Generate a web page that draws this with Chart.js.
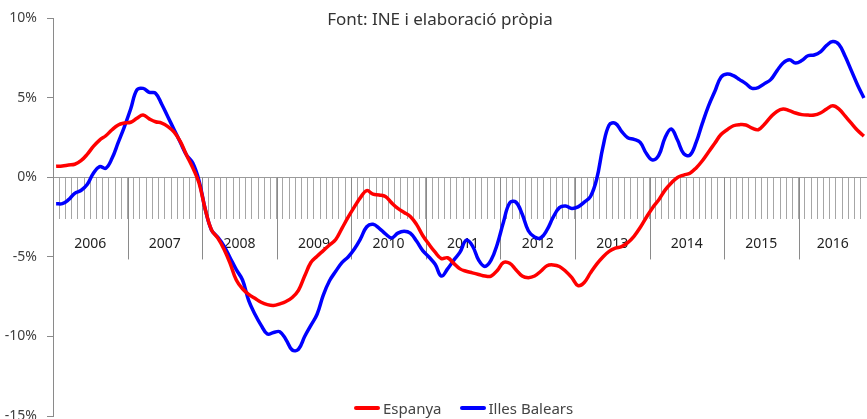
<!DOCTYPE html>
<html>
<head>
<meta charset="utf-8">
<script src="https://cdn.jsdelivr.net/npm/chart.js@4.4.1/dist/chart.umd.min.js"></script>
<style>
  html,body{margin:0;padding:0;background:#fff;overflow:hidden;}
  #wrap{position:relative;width:867px;height:440px;}
  #title{position:absolute;left:0;top:7px;width:880px;text-align:center;
         font:17px 'Noto Sans',sans-serif;color:#333;}
  #legend{position:absolute;left:354px;top:398px;display:flex;align-items:center;
          font:15px 'Noto Sans',sans-serif;color:#444;}
  .li{display:flex;align-items:center;margin-right:18px;}
  .lbar{width:26px;height:4px;border-radius:2px;margin-right:3px;}
</style>
</head>
<body>
<div id="wrap">
  <canvas id="c" width="867" height="440"></canvas>
  <div id="title">Font: INE i elaboració pròpia</div>
  <div id="legend"></div>
</div>
<script>
/* ─── DATA ─────────────────────────────── */
const YEARS  = ['2006','2007','2008','2009','2010','2011','2012','2013','2014','2015','2016'];
const N_MONTHS = 131;   // gen 2006 – nov 2016
const Y_TICKS = [-15,-10,-5,0,5,10];

const ESPANYA = [
  0.70,0.72,0.78,0.83,1.05,1.45,1.95,2.35,2.62,3.00,3.30,3.42,
  3.47,3.72,3.92,3.68,3.50,3.42,3.20,2.85,2.25,1.40,0.60,-0.35,
  -2.00,-3.30,-3.80,-4.50,-5.40,-6.45,-7.00,-7.35,-7.60,-7.85,-8.00,-8.05,
  -7.95,-7.80,-7.55,-7.10,-6.20,-5.35,-4.95,-4.60,-4.25,-3.90,-3.20,-2.50,
  -1.85,-1.25,-0.83,-1.05,-1.10,-1.20,-1.60,-1.95,-2.20,-2.45,-2.95,-3.65,
  -4.20,-4.70,-5.10,-5.05,-5.40,-5.75,-5.90,-6.00,-6.10,-6.20,-6.20,-5.85,
  -5.35,-5.40,-5.80,-6.20,-6.30,-6.20,-5.90,-5.55,-5.50,-5.60,-5.90,-6.30,
  -6.80,-6.60,-6.00,-5.45,-5.00,-4.65,-4.45,-4.35,-4.10,-3.70,-3.15,-2.50,
  -1.90,-1.40,-0.80,-0.35,0.00,0.15,0.27,0.60,1.05,1.60,2.15,2.70,
  3.00,3.25,3.32,3.30,3.10,3.00,3.35,3.80,4.15,4.30,4.20,4.05,
  3.95,3.92,3.92,4.05,4.30,4.50,4.30,3.85,3.40,2.95,2.60
];

const BALEARS = [
  -1.65,-1.65,-1.40,-1.00,-0.82,-0.45,0.27,0.68,0.58,1.20,2.20,3.20,
  4.30,5.50,5.60,5.35,5.30,4.60,3.80,3.00,2.20,1.40,0.90,-0.20,
  -2.00,-3.30,-3.75,-4.30,-5.05,-5.80,-6.45,-7.75,-8.60,-9.30,-9.85,-9.75,
  -9.70,-10.20,-10.85,-10.80,-10.00,-9.30,-8.60,-7.40,-6.50,-5.90,-5.35,-5.00,
  -4.50,-3.85,-3.10,-2.95,-3.20,-3.55,-3.80,-3.50,-3.38,-3.50,-4.00,-4.60,
  -5.00,-5.46,-6.20,-5.75,-5.20,-4.70,-3.95,-4.30,-5.20,-5.60,-5.20,-4.20,
  -2.80,-1.60,-1.55,-2.30,-3.35,-3.75,-3.80,-3.30,-2.50,-1.90,-1.80,-1.95,
  -1.85,-1.55,-1.20,-0.10,1.90,3.30,3.40,2.90,2.50,2.40,2.20,1.50,
  1.10,1.40,2.50,3.05,2.35,1.50,1.40,2.20,3.40,4.50,5.40,6.30,
  6.50,6.40,6.15,5.90,5.60,5.65,5.90,6.15,6.70,7.20,7.40,7.20,
  7.35,7.65,7.70,7.90,8.30,8.54,8.35,7.60,6.70,5.80,5.00
];

const SERIES = [
  {label:'Espanya',       data:ESPANYA, color:'#ff0000'},
  {label:'Illes Balears', data:BALEARS, color:'#0000ff'}
];

const MES = ['gen','feb','mar','abr','mai','jun','jul','ago','set','oct','nov','des'];
const LABELS = [];
for(let i=0;i<N_MONTHS;i++) LABELS.push(MES[i%12]+' '+YEARS[Math.floor(i/12)]);

/* ─── LEGEND ───────────────────────────── */
document.getElementById('legend').innerHTML = SERIES.map(s=>`
  <div class="li"><div class="lbar" style="background:${s.color}"></div>${s.label}</div>`).join('');

/* ─── YEAR BAND UNDER THE ZERO AXIS ────── */
const yearAxis = {
  id:'yearAxis',
  beforeDatasetsDraw(chart){
    const {ctx, scales:{x,y}} = chart;
    const y0   = y.getPixelForValue(0);
    const half = (x.getPixelForValue(1)-x.getPixelForValue(0))/2;
    ctx.save();
    ctx.strokeStyle = '#8a8a8a'; ctx.lineWidth = 1;
    ctx.font = '14px "Noto Sans"'; ctx.fillStyle = '#222';
    ctx.textAlign = 'center'; ctx.textBaseline = 'middle';
    YEARS.forEach((yr,k)=>{
      const first = k*12, last = Math.min(first+11, LABELS.length-1);
      const left  = x.getPixelForValue(first)-half;
      const right = x.getPixelForValue(last)+half;
      if(k>0){
        const px = Math.round(left)+0.5;
        ctx.beginPath(); ctx.moveTo(px,y0); ctx.lineTo(px,y0+82); ctx.stroke();
      }
      ctx.fillText(yr,(left+right)/2,y0+67);
    });
    ctx.restore();
  }
};

/* ─── CHART ────────────────────────────── */
new Chart(document.getElementById('c').getContext('2d'),{
  type:'line',
  data:{
    labels:LABELS,
    datasets:SERIES.map(s=>({
      label:s.label, data:s.data,
      borderColor:s.color, backgroundColor:s.color,
      borderWidth:3.5, tension:0.4, pointRadius:0, fill:false
    }))
  },
  options:{
    responsive:false, animation:false,
    layout:{padding:{top:16,bottom:24,left:0,right:0}},
    plugins:{legend:{display:false}, title:{display:false}, tooltip:{enabled:false}},
    scales:{
      x:{
        type:'category', position:{y:0}, offset:true,
        grid:{offset:true, drawOnChartArea:false, drawTicks:true, tickLength:41, color:'#a6a6a6', lineWidth:1},
        border:{display:true, color:'#9a9a9a', width:1},
        ticks:{display:false, autoSkip:false}
      },
      y:{
        min:-15, max:10,
        afterFit(s){ s.width = 53; },
        afterBuildTicks(s){ s.ticks = Y_TICKS.map(v=>({value:v})); },
        grid:{drawOnChartArea:false, drawTicks:true, tickLength:6, color:'#8a8a8a'},
        border:{display:true, color:'#8a8a8a', width:1},
        ticks:{padding:10, color:'#404040', font:{size:14, family:'Noto Sans'}, callback:v=>v+'%'}
      }
    }
  },
  plugins:[yearAxis]
});
</script>
</body>
</html>
